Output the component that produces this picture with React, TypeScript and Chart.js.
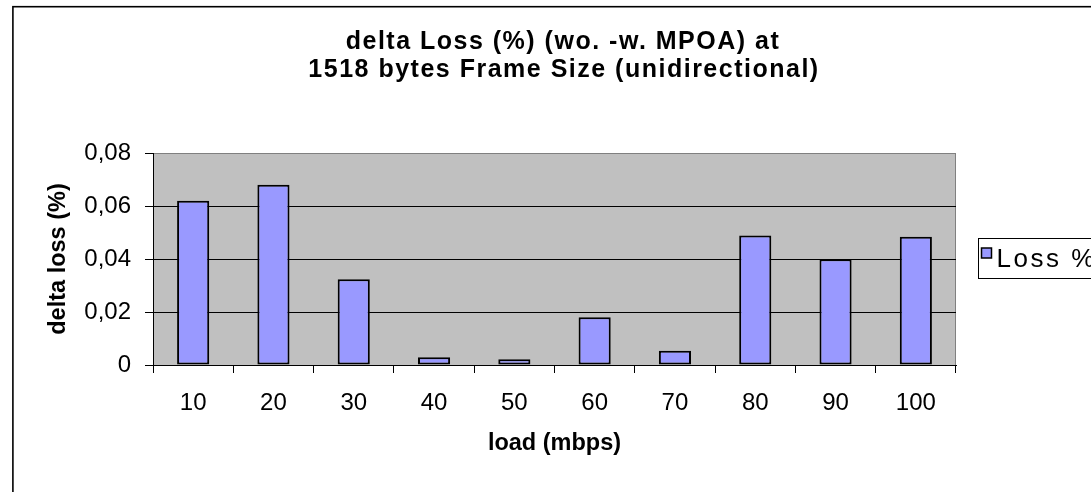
import { useEffect, useRef } from 'react';
import { Chart, registerables } from 'chart.js';

Chart.register(...registerables);

const loadLabels = ['10', '20', '30', '40', '50', '60', '70', '80', '90', '100'];
const lossValues = [0.062, 0.068, 0.0324, 0.0029, 0.0022, 0.018, 0.0054, 0.0489, 0.0399, 0.0484];
const yTickLabels = ['0', '0,02', '0,04', '0,06', '0,08'];
const titleLines = ['delta Loss (%) (wo. -w. MPOA) at', '1518 bytes Frame Size (unidirectional)'];
const seriesName = 'Loss %';
const xTitle = 'load (mbps)';
const yTitle = 'delta loss (%)';

const FONT = '"Liberation Sans", Arial, Helvetica, sans-serif';
const BAR_FILL = '#9999FF';

const decorPlugin = {
  id: 'decor',
  beforeDraw(chart: any) {
    const { ctx, chartArea: a } = chart;
    ctx.save();
    ctx.fillStyle = '#ffffff';
    ctx.fillRect(0, 0, chart.width, chart.height);
    // outer chart frame
    ctx.strokeStyle = '#000000';
    ctx.lineWidth = 1.6;
    ctx.strokeRect(12.9, 6.7, 2000, 2000);
    // plot area
    ctx.fillStyle = '#C0C0C0';
    ctx.fillRect(a.left, a.top, a.right - a.left, a.bottom - a.top);
    ctx.strokeStyle = '#808080';
    ctx.lineWidth = 1;
    ctx.strokeRect(a.left + 0.5, a.top + 0.5, a.right - a.left - 1, a.bottom - a.top);
    ctx.restore();
  },
  afterDraw(chart: any) {
    const { ctx, chartArea: a } = chart;
    ctx.save();
    // title
    ctx.fillStyle = '#000000';
    ctx.font = `bold 25px ${FONT}`;
    (ctx as any).letterSpacing = '1.5px';
    ctx.textAlign = 'center';
    ctx.textBaseline = 'middle';
    ctx.fillText(titleLines[0], 563, 42.5);
    ctx.fillText(titleLines[1], 564, 70.5);
    // legend
    (ctx as any).letterSpacing = '0px';
    const lx = a.right + 22.5;
    const ly = 238.5;
    ctx.fillStyle = '#ffffff';
    ctx.fillRect(lx, ly, 300, 40);
    ctx.strokeStyle = '#000000';
    ctx.lineWidth = 1;
    ctx.strokeRect(lx, ly, 300, 40);
    ctx.fillStyle = BAR_FILL;
    ctx.fillRect(lx + 3, ly + 9.5, 10, 10);
    ctx.lineWidth = 1.5;
    ctx.strokeRect(lx + 3, ly + 9.5, 10, 10);
    ctx.fillStyle = '#000000';
    ctx.font = `26px ${FONT}`;
    (ctx as any).letterSpacing = '2.5px';
    ctx.textAlign = 'left';
    ctx.fillText(seriesName, lx + 18, ly + 21.5);
    ctx.restore();
  },
};

export default function App() {
  const canvasRef = useRef<HTMLCanvasElement | null>(null);

  useEffect(() => {
    if (!canvasRef.current) return;
    Chart.defaults.font.family = FONT;
    const chart = new Chart(canvasRef.current, {
      type: 'bar',
      data: {
        labels: loadLabels,
        datasets: [
          {
            label: seriesName,
            data: lossValues,
            backgroundColor: BAR_FILL,
            borderColor: '#000000',
            borderWidth: 2,
            borderSkipped: false,
            barPercentage: 0.4,
            categoryPercentage: 1,
          },
        ],
      },
      options: {
        animation: false,
        responsive: false,
        devicePixelRatio: 1,
        layout: { padding: { top: 153, right: 135, left: 0, bottom: 0 } },
        plugins: {
          legend: { display: false },
          title: { display: false },
          tooltip: { enabled: false },
        },
        scales: {
          x: {
            afterFit(scale: any) {
              scale.height = 127;
            },
            grid: {
              drawOnChartArea: false,
              drawTicks: true,
              tickLength: 8,
              color: '#000000',
              tickColor: '#000000',
              offset: true,
            },
            border: { color: '#000000', width: 1 },
            ticks: {
              color: '#000000',
              font: { size: 24 },
              padding: 16,
              maxRotation: 0,
              autoSkip: false,
            },
            title: {
              display: true,
              text: xTitle,
              color: '#000000',
              font: { size: 23.5, weight: 'bold' },
              padding: { top: 0, bottom: 34 },
            },
          },
          y: {
            min: 0,
            max: 0.08,
            afterFit(scale: any) {
              scale.width = 153;
            },
            grid: {
              drawTicks: true,
              tickLength: 8,
              color: (c: any) => (c.tick && Math.abs(c.tick.value - 0.08) < 1e-9 ? '#808080' : '#000000'),
              tickColor: '#000000',
            },
            border: { color: '#000000', width: 1 },
            ticks: {
              stepSize: 0.02,
              color: '#000000',
              font: { size: 24 },
              padding: 14,
              callback: (value: any) => {
                const i = Math.round(Number(value) / 0.02);
                return yTickLabels[i] ?? '';
              },
            },
            title: {
              display: true,
              text: yTitle,
              color: '#000000',
              font: { size: 23.5, weight: 'bold' },
              padding: { top: 44, bottom: 0 },
            },
          },
        },
      },
      plugins: [decorPlugin],
    });
    return () => chart.destroy();
  }, []);

  return (
    <div style={{ position: 'absolute', left: 0, top: 0, width: 1091, height: 492 }}>
      <canvas ref={canvasRef} width={1091} height={492} style={{ display: 'block' }} />
    </div>
  );
}
